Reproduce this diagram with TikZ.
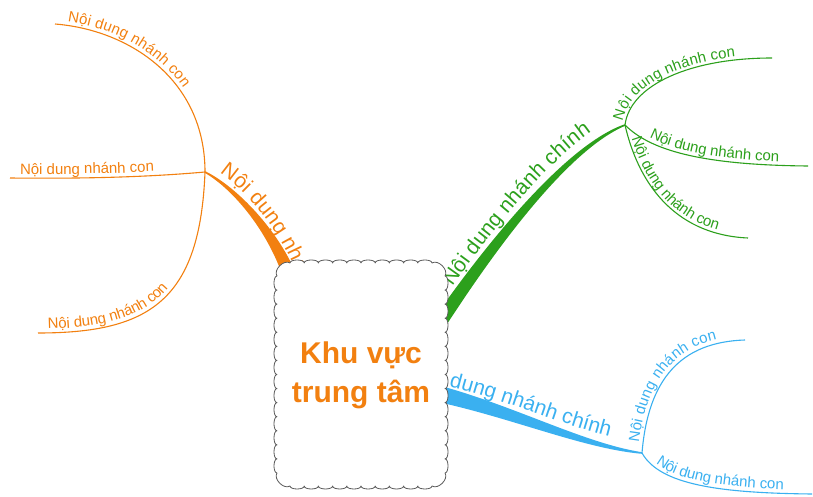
\documentclass[tikz,border=0pt]{standalone}
\usepackage{fontspec}
\setmainfont{Liberation Sans}
\usetikzlibrary{calc,decorations.text}
\definecolor{cor}{RGB}{242,128,16}
\definecolor{cgr}{RGB}{44,160,28}
\definecolor{cbl}{RGB}{58,176,240}
\definecolor{cbox}{RGB}{90,90,90}
% tapered main branch: P0 P1 P2 P3, half widths w0 w1 w2 w3, colour
\newcommand\taperfill[9]{%
  \fill[#9] ($(#1)!#5!90:(#2)$) .. controls ($(#2)!#6!-90:(#1)$) and ($(#3)!#7!90:(#4)$) .. ($(#4)!#8!-90:(#3)$)
    -- ($(#4)!#8!90:(#3)$) .. controls ($(#3)!#7!-90:(#4)$) and ($(#2)!#6!90:(#1)$) .. ($(#1)!#5!-90:(#2)$) -- cycle;}
\tikzset{
  subline/.style={draw=#1, line width=1.1pt},
  lbl/.style n args={5}{decorate, decoration={text along path,
      text={|\fontsize{#2}{#2}\selectfont|#1}, text color=#3, raise=#4,
      text align={left indent=#5}}},
  sublbl/.style n args={3}{lbl={Nội dung nhánh con}{15pt}{#1}{#2}{#3}},
  mainlbl/.style n args={3}{lbl={Nội dung nhánh chính}{21pt}{#1}{#2}{#3}},
  cloudbox/.style={draw=cbox, fill=white, line width=0.8pt, line join=round},
  centertext/.style={text=cor, font=\bfseries\fontsize{30}{36}\selectfont, anchor=base}
}
\begin{document}
\begin{tikzpicture}[x=1pt,y=-1pt]
\useasboundingbox (0,0) rectangle (813,497);
% junctions
\coordinate (jo) at (205,172);
\coordinate (jg) at (625,125);
\coordinate (jb) at (642,453);
% main branch control points
\coordinate (o0) at (292,282); \coordinate (o1) at (275,232); \coordinate (o2) at (235,188);
\coordinate (g0) at (440,322); \coordinate (g1) at (475,270); \coordinate (g2) at (560,150);
\coordinate (b0) at (400,386); \coordinate (b1) at (490,400); \coordinate (b2) at (575,445);
% sub branch ends
\coordinate (os1) at (55,24);  \coordinate (os2) at (10,178); \coordinate (os3) at (38,333);
\coordinate (gs1) at (772,58); \coordinate (gs2) at (808,166); \coordinate (gs3) at (748,238);
\coordinate (bs1) at (745,340); \coordinate (bs2) at (812,494);

% orange
\draw[subline=cor] (os1) .. controls (130,30) and (205,80) .. (jo);
\path[sublbl={cor}{4pt}{12pt}] (os1) .. controls (130,30) and (205,80) .. (jo);
\draw[subline=cor] (os2) .. controls (100,179) and (160,176) .. (jo);
\path[sublbl={cor}{4pt}{10pt}] (os2) .. controls (100,179) and (160,176) .. (jo);
\draw[subline=cor] (os3) .. controls (150,333) and (200,300) .. (jo);
\path[sublbl={cor}{4pt}{10pt}] (os3) .. controls (150,333) and (200,300) .. (jo);
\taperfill{jo}{o2}{o1}{o0}{0.8pt}{2pt}{5pt}{7pt}{cor}
\path[mainlbl={cor}{7pt}{12pt}] (jo) .. controls (o2) and (o1) .. (o0);

% green
\taperfill{g0}{g1}{g2}{jg}{7pt}{6pt}{3pt}{0.8pt}{cgr}
\path[mainlbl={cgr}{10pt}{36pt}] (g0) .. controls (g1) and (g2) .. (jg);
\draw[subline=cgr] (jg) .. controls (630,85) and (690,58) .. (gs1);
\path[sublbl={cgr}{3pt}{3pt}] (jg) .. controls (630,85) and (690,58) .. (gs1);
\draw[subline=cgr] (jg) .. controls (650,150) and (700,165) .. (gs2);
\path[sublbl={cgr}{4pt}{28pt}] (jg) .. controls (650,150) and (700,165) .. (gs2);
\draw[subline=cgr] (jg) .. controls (640,190) and (680,235) .. (gs3);
\path[sublbl={cgr}{3pt}{15pt}] (jg) .. controls (640,190) and (680,235) .. (gs3);

% blue
\taperfill{b0}{b1}{b2}{jb}{9pt}{7.5pt}{3pt}{0.8pt}{cbl}
\path[mainlbl={cbl}{10pt}{10pt}] (b0) .. controls (b1) and (b2) .. (jb);
\draw[subline=cbl] (jb) .. controls (648,380) and (680,342) .. (bs1);
\path[sublbl={cbl}{4pt}{10pt}] (jb) .. controls (648,380) and (680,342) .. (bs1);
\draw[subline=cbl] (jb) .. controls (660,485) and (720,493) .. (bs2);
\path[sublbl={cbl}{4pt}{18pt}] (jb) .. controls (660,485) and (720,493) .. (bs2);

% central box with scalloped border
\draw[cloudbox] (290,263)
  \foreach \i in {1,...,10}{ .. controls +(0,-4) and +(0,-4) .. ++(14.2,0) }
  .. controls +(6,-4) and +(4,-6) .. ++(13,13)
  \foreach \i in {1,...,14}{ .. controls +(4,0) and +(4,0) .. ++(0,14.07) }
  .. controls +(4,6) and +(6,4) .. ++(-13,13)
  \foreach \i in {1,...,10}{ .. controls +(0,4) and +(0,4) .. ++(-14.2,0) }
  .. controls +(-6,4) and +(-4,6) .. ++(-13,-13)
  \foreach \i in {1,...,14}{ .. controls +(-4,0) and +(-4,0) .. ++(0,-14.07) }
  .. controls +(-4,-6) and +(-6,-4) .. ++(13,-13) -- cycle;
\node[centertext] (ctr1) at (361,363) {Khu vực};
\node[centertext] (ctr2) at (361,402) {trung tâm};
\end{tikzpicture}
\end{document}
